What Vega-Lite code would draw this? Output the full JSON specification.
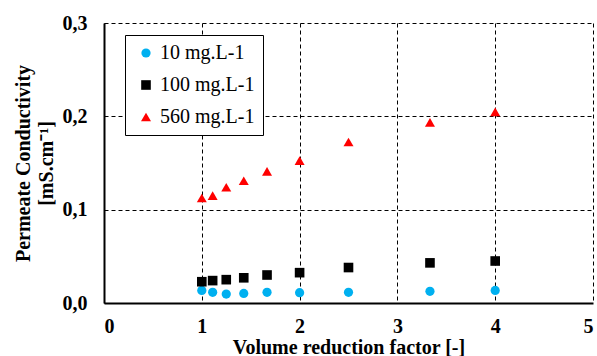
{
  "$schema": "https://vega.github.io/schema/vega-lite/v6.json",
  "autosize": "none",
  "width": 489,
  "height": 280,
  "padding": {"left": 104, "top": 23, "right": 4, "bottom": 53},
  "background": "white",
  "config": {
    "view": {"stroke": null},
    "font": "Liberation Serif"
  },
  "data": {
    "values": [
      {"vrf": 1.0, "cond": 0.0135, "series": "10 mg.L-1"},
      {"vrf": 1.111, "cond": 0.0114, "series": "10 mg.L-1"},
      {"vrf": 1.25, "cond": 0.0096, "series": "10 mg.L-1"},
      {"vrf": 1.429, "cond": 0.0103, "series": "10 mg.L-1"},
      {"vrf": 1.667, "cond": 0.0114, "series": "10 mg.L-1"},
      {"vrf": 2.0, "cond": 0.011, "series": "10 mg.L-1"},
      {"vrf": 2.5, "cond": 0.0114, "series": "10 mg.L-1"},
      {"vrf": 3.333, "cond": 0.0125, "series": "10 mg.L-1"},
      {"vrf": 4.0, "cond": 0.0135, "series": "10 mg.L-1"},
      {"vrf": 1.0, "cond": 0.0228, "series": "100 mg.L-1"},
      {"vrf": 1.111, "cond": 0.024, "series": "100 mg.L-1"},
      {"vrf": 1.25, "cond": 0.025, "series": "100 mg.L-1"},
      {"vrf": 1.429, "cond": 0.027, "series": "100 mg.L-1"},
      {"vrf": 1.667, "cond": 0.030, "series": "100 mg.L-1"},
      {"vrf": 2.0, "cond": 0.0325, "series": "100 mg.L-1"},
      {"vrf": 2.5, "cond": 0.038, "series": "100 mg.L-1"},
      {"vrf": 3.333, "cond": 0.043, "series": "100 mg.L-1"},
      {"vrf": 4.0, "cond": 0.045, "series": "100 mg.L-1"},
      {"vrf": 1.0, "cond": 0.1125, "series": "560 mg.L-1"},
      {"vrf": 1.111, "cond": 0.115, "series": "560 mg.L-1"},
      {"vrf": 1.25, "cond": 0.124, "series": "560 mg.L-1"},
      {"vrf": 1.429, "cond": 0.131, "series": "560 mg.L-1"},
      {"vrf": 1.667, "cond": 0.141, "series": "560 mg.L-1"},
      {"vrf": 2.0, "cond": 0.1525, "series": "560 mg.L-1"},
      {"vrf": 2.5, "cond": 0.1725, "series": "560 mg.L-1"},
      {"vrf": 3.333, "cond": 0.1935, "series": "560 mg.L-1"},
      {"vrf": 4.0, "cond": 0.2047, "series": "560 mg.L-1"}
    ]
  },
  "mark": {"type": "point", "filled": true, "opacity": 1},
  "encoding": {
    "x": {
      "field": "vrf", "type": "quantitative",
      "scale": {"domain": [0, 5], "nice": false, "zero": false},
      "axis": {
        "title": "Volume reduction factor [-]",
        "values": [0, 1, 2, 3, 4, 5],
        "format": "d",
        "grid": true, "gridColor": "#000000", "gridDash": [4, 3], "gridWidth": 1, "gridOpacity": 1,
        "domain": true, "domainColor": "#000000", "domainWidth": 2,
        "ticks": false,
        "labelFontSize": 20, "labelFontWeight": "bold", "labelColor": "#000000",
        "labelPadding": 13,
        "titleFontSize": 20, "titleFontWeight": "bold", "titleColor": "#000000",
        "titlePadding": 1
      }
    },
    "y": {
      "field": "cond", "type": "quantitative",
      "scale": {"domain": [0, 0.3], "nice": false},
      "axis": {
        "title": ["Permeate Conductivity", "[mS.cm⁻¹]"],
        "values": [0, 0.1, 0.2, 0.3],
        "labelExpr": "replace(format(datum.value, '.1f'), '.', ',')",
        "grid": true, "gridColor": "#000000", "gridDash": [4, 3], "gridWidth": 1, "gridOpacity": 1,
        "domain": true, "domainColor": "#000000", "domainWidth": 2,
        "ticks": false,
        "labelFontSize": 20, "labelFontWeight": "bold", "labelColor": "#000000",
        "labelPadding": 17,
        "titleFontSize": 20, "titleFontWeight": "bold", "titleColor": "#000000",
        "titleLineHeight": 23,
        "titlePadding": 6
      }
    },
    "color": {
      "field": "series", "type": "nominal",
      "scale": {"domain": ["10 mg.L-1", "100 mg.L-1", "560 mg.L-1"], "range": ["#00B0F0", "#000000", "#FF0000"]},
      "legend": {
        "title": null,
        "orient": "none", "legendX": 21, "legendY": 12,
        "padding": 8,
        "symbolOffset": 3,
        "strokeColor": "#000000", "fillColor": "#FFFFFF",
        "labelFontSize": 20, "labelColor": "#000000",
        "labelLimit": 300,
        "labelOffset": 4,
        "rowPadding": 12,
        "symbolSize": 90,
        "symbolOpacity": 1
      }
    },
    "shape": {
      "field": "series", "type": "nominal",
      "scale": {"domain": ["10 mg.L-1", "100 mg.L-1", "560 mg.L-1"], "range": ["circle", "square", "triangle-up"]},
      "legend": null
    },
    "size": {
      "field": "series", "type": "nominal",
      "scale": {"domain": ["10 mg.L-1", "100 mg.L-1", "560 mg.L-1"], "range": [85, 100, 100]},
      "legend": null
    }
  }
}
